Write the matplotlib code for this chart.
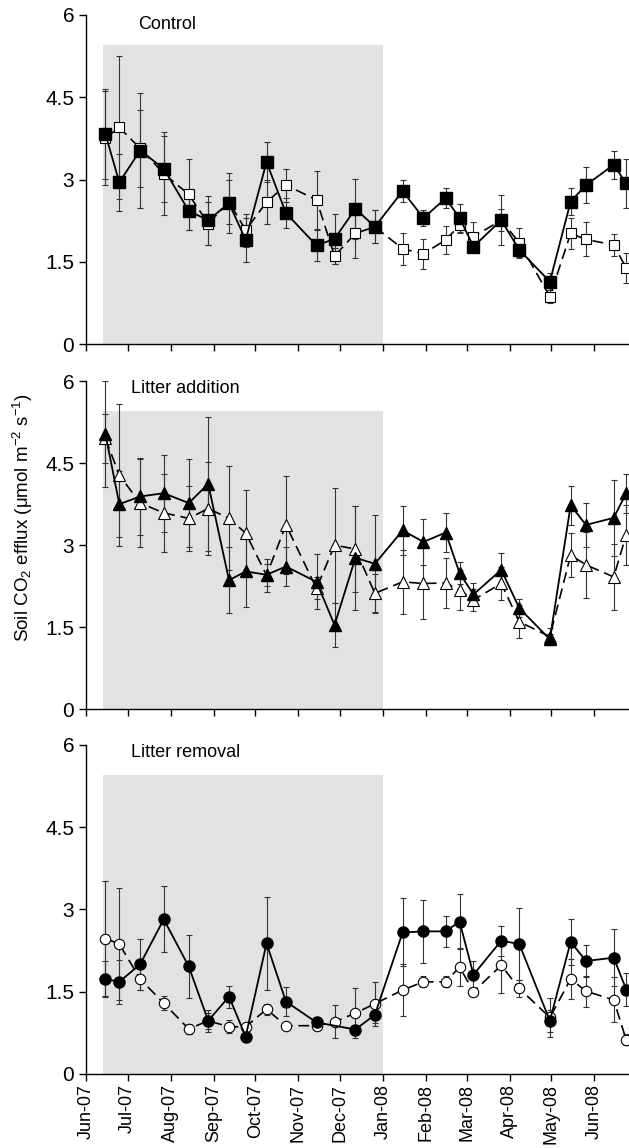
import numpy as np
import pandas as pd
import matplotlib
matplotlib.use("Agg")
from matplotlib import pyplot as plt
import matplotlib.dates as mdates

plt.rcParams['font.family'] = ['Liberation Sans', 'DejaVu Sans']
plt.rcParams['mathtext.fontset'] = 'custom'
plt.rcParams['mathtext.rm'] = 'Liberation Sans'
plt.rcParams['mathtext.default'] = 'regular'

# sampling dates (same for all plots)
dates = ['2007-06-15', '2007-06-25', '2007-07-10', '2007-07-27', '2007-08-14',
         '2007-08-28', '2007-09-12', '2007-09-24', '2007-10-09', '2007-10-23',
         '2007-11-14', '2007-11-27', '2007-12-12', '2007-12-26', '2008-01-15',
         '2008-01-30', '2008-02-15', '2008-02-25', '2008-03-06', '2008-03-26',
         '2008-04-08', '2008-04-30', '2008-05-15', '2008-05-26', '2008-06-15',
         '2008-06-24']

# control
control_solid = [3.83, 2.95, 3.53, 3.20, 2.43, 2.26, 2.57, 1.90, 3.32, 2.39, 1.80, 1.92, 2.47,
                 2.14, 2.79, 2.30, 2.66, 2.30, 1.78, 2.26, 1.72, 1.14, 2.60, 2.90, 3.27, 2.93]
control_solid_err = [0.82, 0.52, 1.05, 0.60, 0.35, 0.45, 0.55, 0.40, 0.37, 0.27, 0.28, 0.45, 0.55,
                     0.30, 0.20, 0.15, 0.18, 0.25, 0.10, 0.46, 0.15, 0.15, 0.25, 0.33, 0.26, 0.45]
control_open = [3.76, 3.95, 3.57, 3.11, 2.73, 2.20, 2.59, 2.08, 2.59, 2.90, 2.63, 1.61, 2.02,
                2.14, 1.74, 1.65, 1.90, 2.17, 1.96, 2.26, 1.85, 0.87, 2.02, 1.91, 1.81, 1.39]
control_open_err = [0.85, 1.30, 0.70, 0.75, 0.65, 0.40, 0.40, 0.30, 0.40, 0.30, 0.53, 0.15, 0.45,
                    0.30, 0.29, 0.27, 0.26, 0.15, 0.27, 0.20, 0.26, 0.12, 0.28, 0.31, 0.20, 0.27]

# litter addition
addition_solid = [5.03, 3.75, 3.89, 3.95, 3.77, 4.12, 2.36, 2.52, 2.46, 2.61, 2.33, 1.54, 2.77,
                  2.66, 3.27, 3.06, 3.23, 2.49, 2.10, 2.55, 1.85, 1.28, 3.73, 3.37, 3.50, 3.95]
addition_solid_err = [0.97, 0.60, 0.70, 0.70, 0.80, 1.22, 0.60, 0.65, 0.20, 0.35, 0.50, 0.40, 0.95,
                      0.90, 0.45, 0.42, 0.36, 0.20, 0.20, 0.30, 0.17, 0.10, 0.36, 0.41, 0.70, 0.36]
addition_open = [4.95, 4.28, 3.77, 3.59, 3.49, 3.67, 3.49, 3.22, 2.45, 3.37, 2.21, 3.00, 2.93,
                 2.12, 2.33, 2.30, 2.31, 2.18, 2.00, 2.30, 1.60, 1.33, 2.82, 2.64, 2.42, 3.19]
addition_open_err = [0.45, 1.30, 0.80, 0.72, 0.60, 0.85, 0.95, 0.78, 0.30, 0.90, 0.20, 1.05, 0.78,
                     0.35, 0.58, 0.64, 0.45, 0.37, 0.20, 0.30, 0.30, 0.15, 0.40, 0.60, 0.60, 0.55]

# litter removal (no solid value on 27 Nov)
removal_solid = [1.73, 1.68, 2.00, 2.82, 1.96, 0.97, 1.41, 0.68, 2.38, 1.32, 0.94, None, 0.81,
                 1.08, 2.58, 2.60, 2.60, 2.78, 1.81, 2.43, 2.37, 0.97, 2.41, 2.06, 2.12, 1.54]
removal_solid_err = [0.33, 0.40, 0.47, 0.60, 0.58, 0.20, 0.20, 0.08, 0.85, 0.27, 0.08, None, 0.08,
                     0.15, 0.62, 0.58, 0.28, 0.50, 0.25, 0.27, 0.65, 0.20, 0.42, 0.30, 0.52, 0.30]
removal_open = [2.47, 2.37, 1.73, 1.29, 0.82, 0.97, 0.86, 0.86, 1.18, 0.88, 0.88, 0.95, 1.11,
                1.28, 1.53, 1.68, 1.68, 1.95, 1.50, 1.98, 1.56, 1.03, 1.73, 1.51, 1.35, 0.62]
removal_open_err = [1.05, 1.02, 0.20, 0.13, 0.10, 0.15, 0.12, 0.06, 0.10, 0.05, 0.08, 0.30, 0.45,
                    0.40, 0.47, 0.10, 0.10, 0.35, 0.07, 0.50, 0.15, 0.35, 0.37, 0.28, 0.41, 0.10]

panel_titles = ['Control', 'Litter addition', 'Litter removal']
panel_markers = ['s', '^', 'o']

# shaded period and axis limits
shade_start, shade_end, shade_top = '2007-06-13', '2008-01-01', 5.45
x_start, x_end = '2007-06-01', '2008-06-26'
y_ticks = [0, 1.5, 3, 4.5, 6]
y_tick_labels = ['0', '1.5', '3', '4.5', '6']


def draw_series(ax, x, y, err, marker, filled):
    x = pd.to_datetime(pd.Series(x))
    y = pd.Series(y, dtype=float)
    err = pd.Series(err, dtype=float)
    keep = y.notna()
    x, y, err = x[keep], y[keep], err[keep]
    ax.errorbar(x, y, yerr=err, fmt='none', ecolor='#333333', elinewidth=0.8,
                capsize=2.0, capthick=0.8, zorder=3)
    if filled:
        ax.plot(x, y, color='black', lw=1.3, marker=marker, ms=8.5 if marker == '^' else 8,
                mfc='black', mec='black', zorder=5)
    else:
        ax.plot(x, y, color='black', lw=1.2, linestyle=(0, (6.5, 3.5)), marker=marker,
                ms=8 if marker == '^' else 7.5, mfc='white', mec='black', mew=0.8, zorder=4)


fig = plt.figure(figsize=(6.29, 11.48), dpi=100)
bottoms = [0.7001, 0.3821, 0.0645]
heights = [0.2869, 0.2860, 0.2866]
title_y = [0.957, 0.963, 0.9635]
title_x = [0.0963, 0.083, 0.083]

data = [(control_solid, control_solid_err, control_open, control_open_err),
        (addition_solid, addition_solid_err, addition_open, addition_open_err),
        (removal_solid, removal_solid_err, removal_open, removal_open_err)]

for i in range(3):
    ax = fig.add_axes([0.1367, bottoms[i], 0.8633, heights[i]])
    ax.fill_between(pd.to_datetime([shade_start, shade_end]), 0, shade_top,
                    color='#e1e2e4', lw=0, zorder=0)
    solid, solid_err, open_, open_err = data[i]
    draw_series(ax, dates, open_, open_err, panel_markers[i], False)
    draw_series(ax, dates, solid, solid_err, panel_markers[i], True)

    ax.set_xlim(pd.Timestamp(x_start), pd.Timestamp(x_end))
    ax.set_ylim(0, 6)
    ax.set_yticks(y_ticks)
    ax.set_yticklabels(y_tick_labels)
    ax.xaxis.set_major_locator(mdates.MonthLocator())
    ax.xaxis.set_major_formatter(mdates.DateFormatter('%b-%y'))
    for s in ['top', 'right']:
        ax.spines[s].set_visible(False)
    for s in ['left', 'bottom']:
        ax.spines[s].set_linewidth(1.0)
    ax.tick_params(direction='out', length=5, width=1.0, labelsize=15)
    ax.tick_params(axis='x', labelsize=13, rotation=90, pad=2)
    if i < 2:
        ax.tick_params(axis='x', labelbottom=False)
    ax.text(title_x[i], title_y[i], panel_titles[i], transform=ax.transAxes,
            fontsize=13, va='baseline', ha='left')

fig.text(23 / 629, 1 - 518 / 1148, r'Soil CO$_2$ efflux (μmol m$^{-2}$ s$^{-1}$)',
         rotation=90, va='center', ha='center', fontsize=13.5)

fig.savefig('out.png', dpi=100)
